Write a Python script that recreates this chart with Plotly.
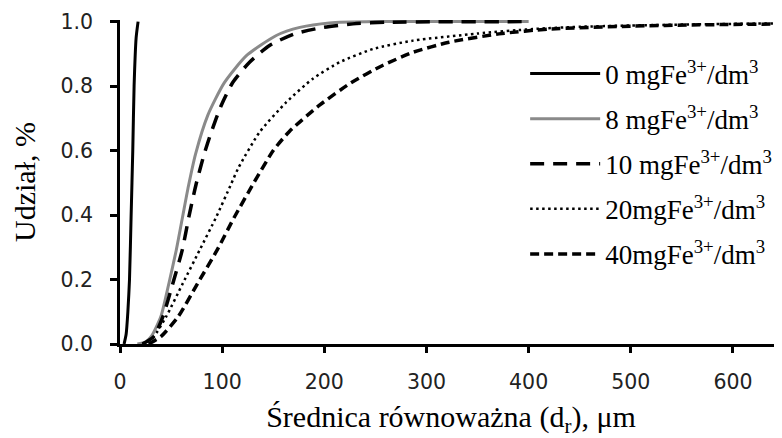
import plotly.graph_objects as go

# ---- data ----
x_0 = [4, 6, 7.7, 9.3, 10.9, 12.5, 13.8, 15.8, 17.7]
y_0 = [0, 0.03, 0.10, 0.20, 0.40, 0.60, 0.80, 0.95, 1.00]

x_8 = [17, 25, 31, 40, 48, 55, 61, 67, 74, 86, 102, 124, 153, 176, 205, 250, 400]
y_8 = [0, 0.006, 0.025, 0.085, 0.19, 0.29, 0.39, 0.49, 0.59, 0.71, 0.81, 0.895, 0.957, 0.982, 0.996, 1.0, 1.0]

x_10 = [22, 33, 42, 51.7, 60.9, 67.4, 74.6, 82.5, 89.3, 99.1, 110.5, 126.8, 146.4, 170.9, 198.6, 228, 260, 400]
y_10 = [0, 0.023, 0.085, 0.188, 0.291, 0.394, 0.497, 0.59, 0.657, 0.74, 0.812, 0.874, 0.926, 0.962, 0.982, 0.993, 0.998, 1.0]

x_20 = [22, 33, 45.2, 61.5, 77.9, 94.2, 108.9, 116, 136.6, 162.8, 188.8, 215, 247.6, 286.8, 350, 404, 450, 500, 600, 660]
y_20 = [0, 0.023, 0.085, 0.188, 0.291, 0.394, 0.497, 0.547, 0.657, 0.75, 0.823, 0.874, 0.915, 0.941, 0.963, 0.977, 0.984, 0.988, 0.993, 0.995]

x_40 = [28, 40, 57, 76, 95, 112, 131, 150, 166, 195, 226, 257, 287, 322, 371, 420, 500, 567, 660]
y_40 = [0, 0.023, 0.085, 0.188, 0.291, 0.394, 0.50, 0.60, 0.66, 0.74, 0.81, 0.864, 0.905, 0.936, 0.962, 0.977, 0.986, 0.99, 0.993]

series_names = [
    "0 mgFe<sup>3+</sup>/dm<sup>3</sup>",
    "8 mgFe<sup>3+</sup>/dm<sup>3</sup>",
    "10 mgFe<sup>3+</sup>/dm<sup>3</sup>",
    "20mgFe<sup>3+</sup>/dm<sup>3</sup>",
    "40mgFe<sup>3+</sup>/dm<sup>3</sup>",
]
x_ticks = [0, 100, 200, 300, 400, 500, 600]
y_ticks = [0.0, 0.2, 0.4, 0.6, 0.8, 1.0]
x_title = "Średnica równoważna (d<sub>r</sub>), μm"
y_title = "Udział, %"

styles = [
    dict(color="black", width=3, dash="solid"),
    dict(color="#8a8a8a", width=3, dash="solid"),
    dict(color="black", width=3.5, dash="14px,9px"),
    dict(color="black", width=2.5, dash="2.5px,3.5px"),
    dict(color="black", width=3.5, dash="9px,5px"),
]
xs = [x_0, x_8, x_10, x_20, x_40]
ys = [y_0, y_8, y_10, y_20, y_40]

fig = go.Figure()
for i, (xv, yv, nm, st) in enumerate(zip(xs, ys, series_names, styles)):
    fig.add_trace(go.Scatter(
        x=xv, y=yv, mode="lines", name=nm, legendgroup=str(i),
        line=dict(color=st["color"], width=st["width"], dash=st["dash"], shape="spline", smoothing=0.6),
    ))

serif = "Liberation Serif, Times New Roman, serif"
sans = "DejaVu Sans, Verdana, sans-serif"

# page body has an 8px margin, so the figure is sized 8px smaller than the window
fig.update_layout(
    width=774, height=430,
    margin=dict(l=112, r=0, t=11.5, b=94),
    plot_bgcolor="white", paper_bgcolor="white",
    legend=dict(
        x=0.612, y=0.909, xanchor="left", yanchor="top",
        font=dict(family=serif, size=27, color="black"),
        bgcolor="rgba(0,0,0,0)", itemwidth=70, tracegroupgap=7,
    ),
)
fig.update_xaxes(
    automargin=False,
    range=[0, 648], tickvals=x_ticks, showline=True, linewidth=2.5, linecolor="black",
    ticks="outside", ticklen=6, tickwidth=2.5, tickcolor="black",
    tickfont=dict(family=sans, size=20.5, color="#222"), ticklabelstandoff=12,
    showgrid=False, zeroline=False,
    title=dict(text=x_title, font=dict(family=serif, size=30, color="black"), standoff=26),
)
fig.update_yaxes(
    automargin=False,
    range=[0, 1.005], tickvals=y_ticks, tickformat=".1f", showline=True, linewidth=2.5, linecolor="black",
    ticks="outside", ticklen=7, tickwidth=2.5, tickcolor="black",
    tickfont=dict(family=sans, size=20.5, color="#222"), ticklabelstandoff=13,
    showgrid=False, zeroline=False,
    title=dict(text=y_title, font=dict(family=serif, size=30, color="black"), standoff=41),
)

fig.write_html("out.html")
